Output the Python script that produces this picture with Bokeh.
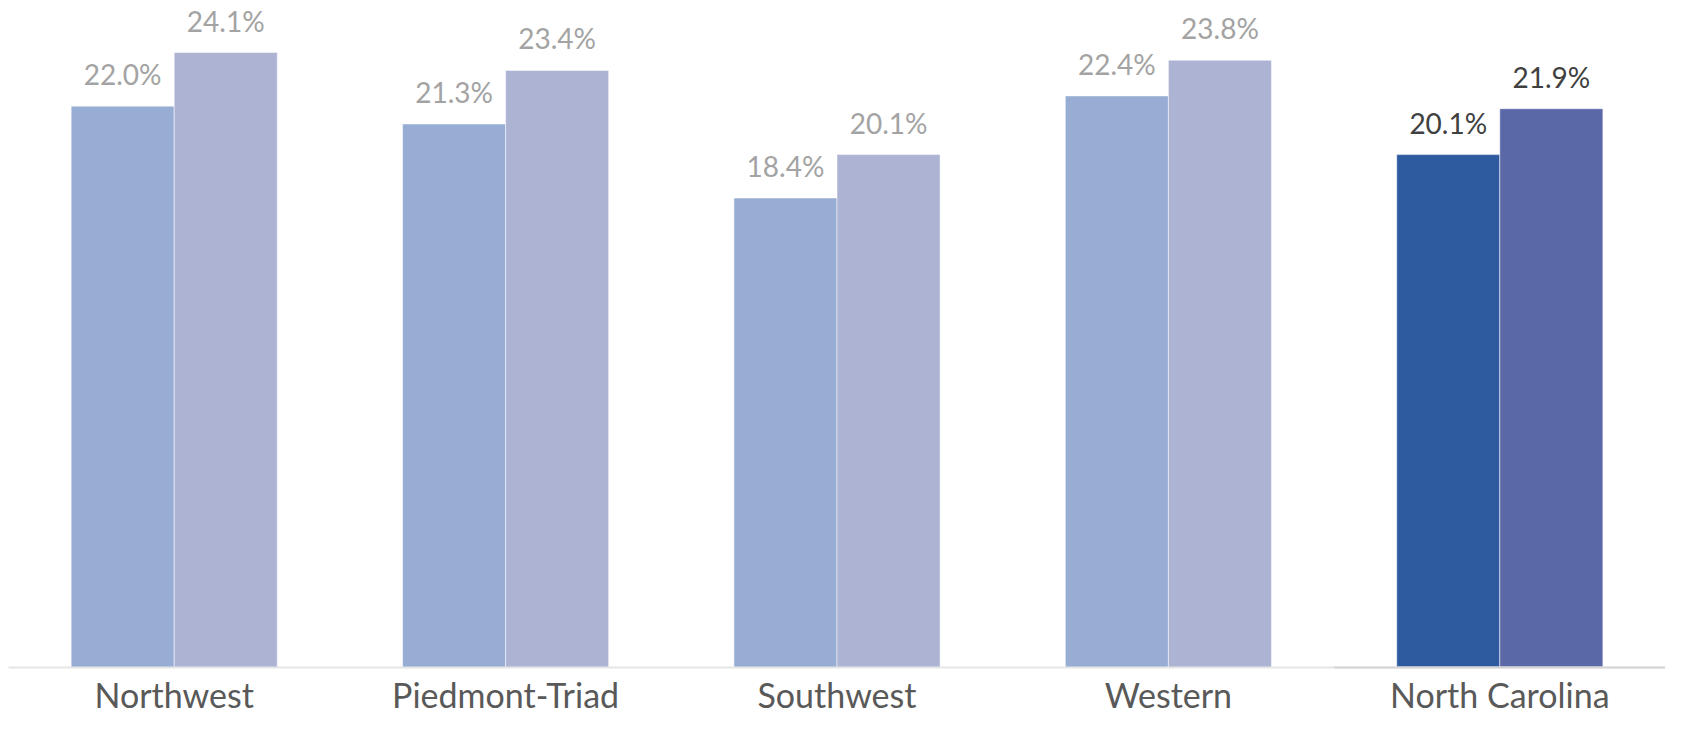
from bokeh.plotting import figure
from bokeh.models import ColumnDataSource, Range1d, FactorRange
from bokeh.transform import dodge
from bokeh.core.properties import value
from bokeh.embed import file_html
from bokeh.resources import INLINE

categories = ["Northwest", "Piedmont-Triad", "Southwest", "Western", "North Carolina"]
series_a = [22.0, 21.3, 18.4, 22.4, 20.1]
series_b = [24.1, 23.4, 20.1, 23.8, 21.9]

colors_a = ["#98ADD4", "#98ADD4", "#98ADD4", "#98ADD4", "#2E5AA0"]
colors_b = ["#ADB3D3", "#ADB3D3", "#ADB3D3", "#ADB3D3", "#5A68A8"]
label_colors = ["#A3A3A3", "#A3A3A3", "#A3A3A3", "#A3A3A3", "#404040"]

src = ColumnDataSource(dict(
    cat=categories,
    a=series_a,
    b=series_b,
    a_txt=[f"{v:.1f}%" for v in series_a],
    b_txt=[f"{v:.1f}%" for v in series_b],
    ca=colors_a,
    cb=colors_b,
    lc=label_colors,
))

p = figure(
    x_range=FactorRange(*categories, range_padding=0),
    y_range=Range1d(0, 26.14),
    width=1665, height=717,
    output_backend="svg", toolbar_location=None,
    min_border=0, min_border_left=8,
)
p.outline_line_color = None
p.background_fill_color = "white"
p.border_fill_color = "white"
p.xgrid.visible = False
p.ygrid.visible = False
p.yaxis.visible = False

bw = 0.311
off = bw / 2
p.vbar(x=dodge("cat", -off, range=p.x_range), top="a", width=bw, source=src,
       fill_color="ca", line_color="white", line_width=0.5)
p.vbar(x=dodge("cat", off, range=p.x_range), top="b", width=bw, source=src,
       fill_color="cb", line_color="white", line_width=0.5)

for col, txt, dx in (("a", "a_txt", -off), ("b", "b_txt", off)):
    p.text(x=dodge("cat", dx, range=p.x_range), y=col, text=txt, source=src,
           text_align="center", text_baseline="alphabetic", y_offset=-32,
           text_font=value("Lato"), text_font_size="28px", text_color="lc")

# slightly darker baseline under the state total group
nc_src = ColumnDataSource(dict(cat=categories[-1:], y=[0]))
p.segment(x0=dodge("cat", -0.5, range=p.x_range), x1=dodge("cat", 0.5, range=p.x_range),
          y0="y", y1="y", source=nc_src, line_color="#D6D6D6", line_width=2,
          level="overlay")

ax = p.xaxis[0]
ax.axis_line_color = "#E6E6E6"
ax.axis_line_width = 2
ax.major_tick_line_color = None
ax.minor_tick_line_color = None
ax.major_label_text_font = "Lato"
ax.major_label_text_font_size = "34px"
ax.major_label_text_color = "#595959"
ax.major_label_standoff = 0

open("out.html", "w").write(file_html(p, INLINE))
